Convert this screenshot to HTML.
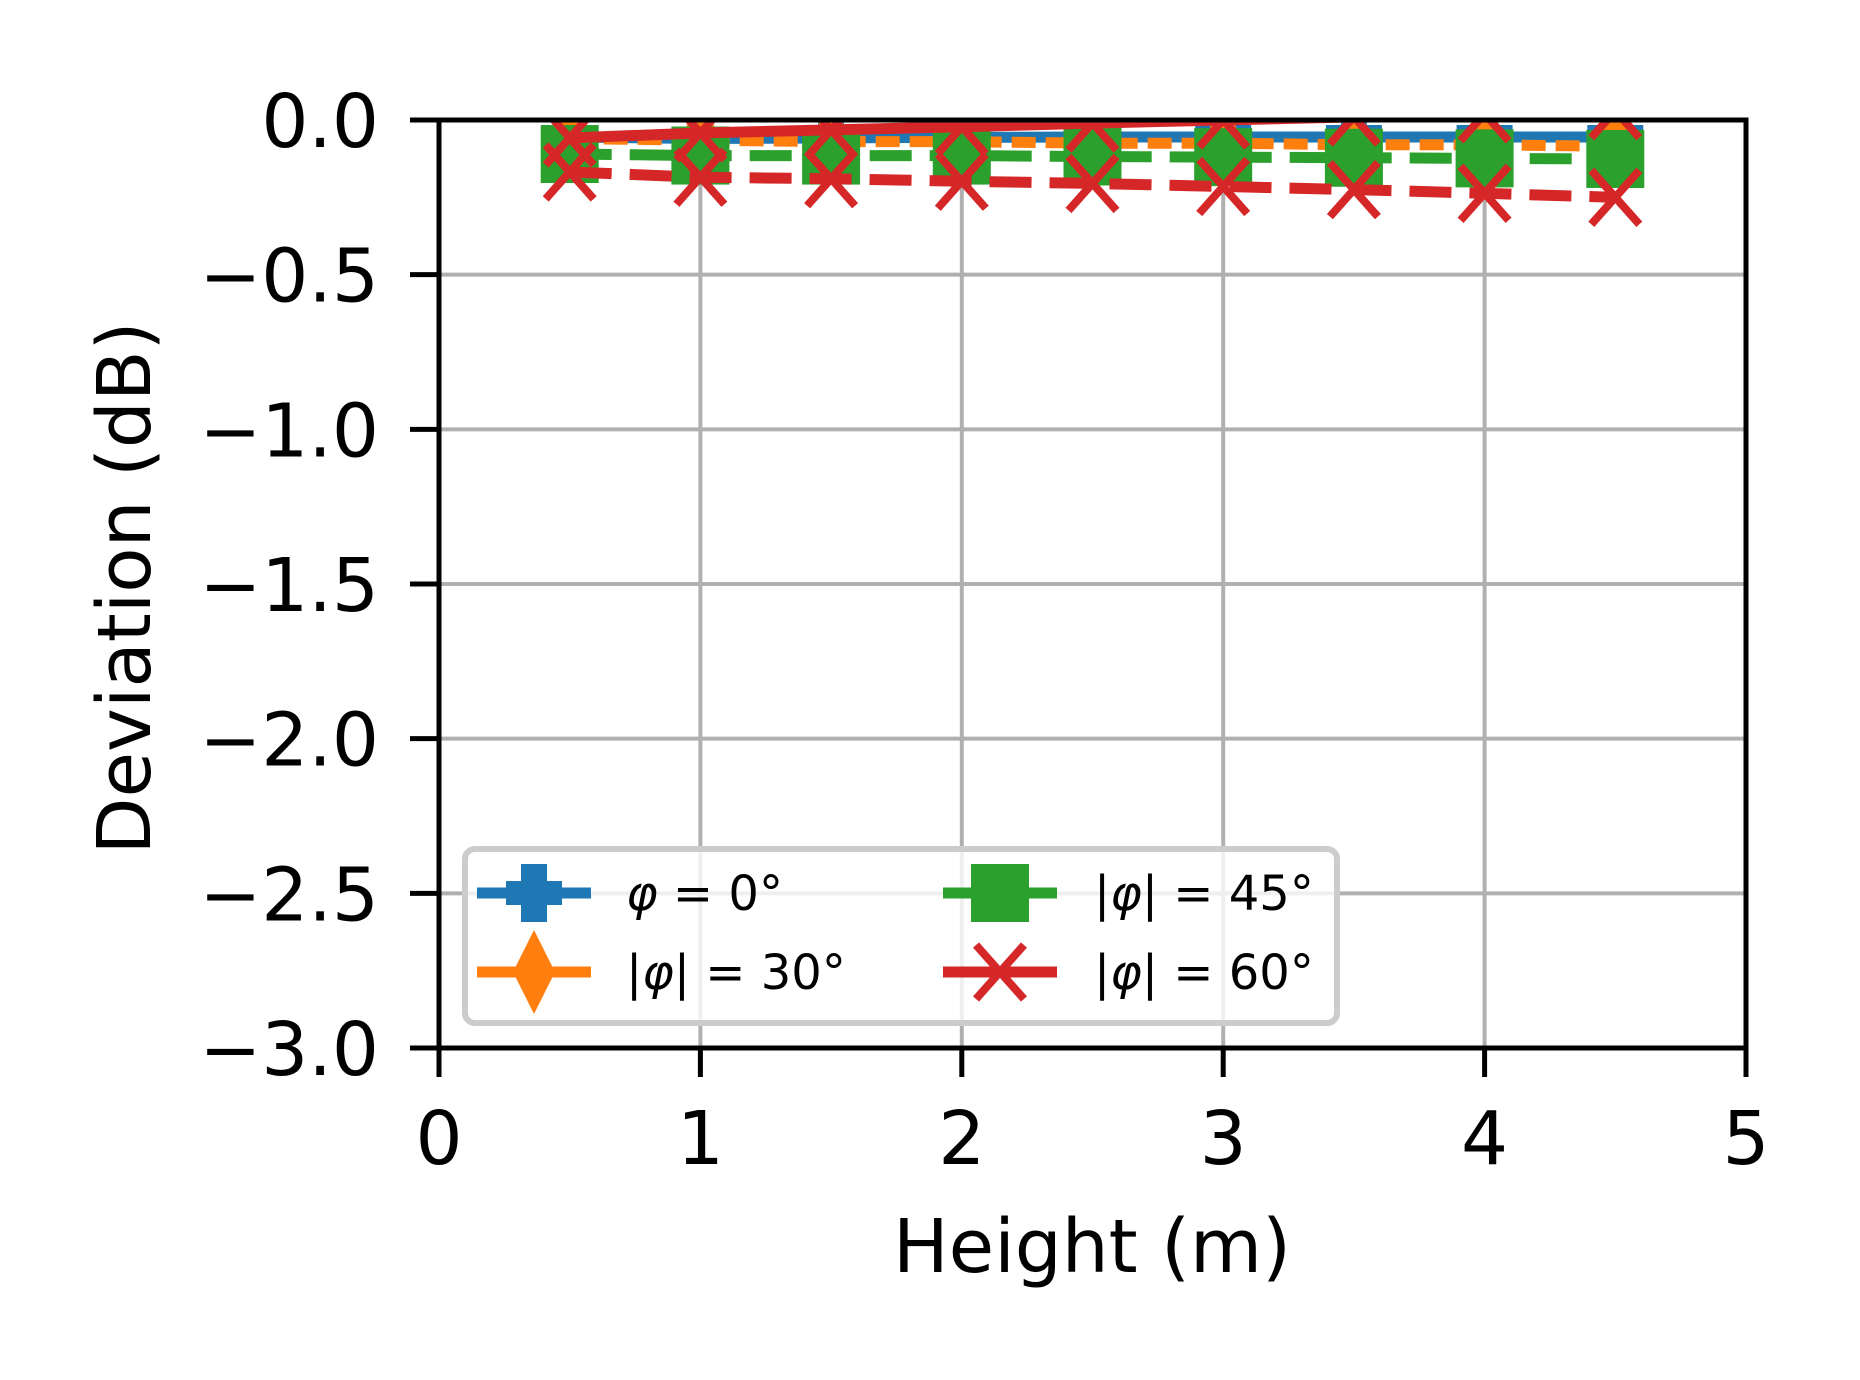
<!DOCTYPE html>
<html><head><meta charset="utf-8"><style>
html,body{margin:0;padding:0;background:#fff;}
svg{display:block;font-family:"DejaVu Sans","Liberation Sans",sans-serif;}
</style></head><body>
<svg id="chart" width="1860" height="1380" viewBox="0 0 1860 1380" xmlns="http://www.w3.org/2000/svg">
<defs><clipPath id="clip"><rect x="439" y="120" width="1307" height="928"/></clipPath></defs>
<rect width="1860" height="1380" fill="#fff"/>
<g id="grid"></g>
<g id="series" clip-path="url(#clip)"></g>
<g id="axes"></g>
<text x="125" y="588" font-size="74" text-anchor="middle" transform="rotate(-90 125 588)" dominant-baseline="central">Deviation (dB)</text>
<text x="1092" y="1272" font-size="74" text-anchor="middle">Height (m)</text>
<g id="legend"></g>
</svg>
<script>
const heights = [0.5, 1.0, 1.5, 2.0, 2.5, 3.0, 3.5, 4.0, 4.5];
const dev0 = [-0.055, -0.06, -0.058, -0.056, -0.055, -0.055, -0.055, -0.055, -0.055];
const dev30 = [-0.06, -0.065, -0.07, -0.07, -0.075, -0.075, -0.08, -0.08, -0.085];
const dev45 = [-0.11, -0.115, -0.115, -0.115, -0.118, -0.12, -0.122, -0.124, -0.126];
const dev60pos = [-0.058, -0.042, -0.032, -0.022, -0.01, 0.0, 0.01, 0.02, 0.03];
const dev60neg = [-0.168, -0.185, -0.19, -0.198, -0.205, -0.215, -0.225, -0.237, -0.25];
const xTicks = [0, 1, 2, 3, 4, 5];
const yTicks = [0, -0.5, -1.0, -1.5, -2.0, -2.5, -3.0];
const yTickLabels = ["0.0", "\u22120.5", "\u22121.0", "\u22121.5", "\u22122.0", "\u22122.5", "\u22123.0"];

const L = 439, R = 1746, T = 120, B = 1048;
const xs = v => L + (v - 0) / 5 * (R - L);
const ys = v => T + (0 - v) / 3 * (B - T);
const NS = "http://www.w3.org/2000/svg";
function mk(tag, attrs, parent) {
  const e = document.createElementNS(NS, tag);
  for (const k in attrs) e.setAttribute(k, attrs[k]);
  parent.appendChild(e);
  return e;
}
const grid = document.getElementById('grid');
const axes = document.getElementById('axes');
xTicks.forEach(t => {
  const g = mk('line', {x1: xs(t), x2: xs(t), y1: T, y2: B, stroke: '#b0b0b0', 'stroke-width': 4}, grid);
  
  
  const tk = mk('line', {x1: xs(t), x2: xs(t), y1: B, y2: B + 29, stroke: '#000', 'stroke-width': 5}, axes);
  
  
  const tx = mk('text', {x: xs(t), y: 1164, 'font-size': 74, 'text-anchor': 'middle'}, axes);
  tx.textContent = String(t);
  
  
});
yTicks.forEach((t, i) => {
  const g = mk('line', {x1: L, x2: R, y1: ys(t), y2: ys(t), stroke: '#b0b0b0', 'stroke-width': 4}, grid);
  
  
  const tk = mk('line', {x1: L - 29, x2: L, y1: ys(t), y2: ys(t), stroke: '#000', 'stroke-width': 5}, axes);
  
  
  const tx = mk('text', {x: 379, y: ys(t) + 27, 'font-size': 74, 'text-anchor': 'end'}, axes);
  tx.textContent = yTickLabels[i];
  
  
});
const frame = mk('rect', {x: L, y: T, width: R - L, height: B - T, fill: 'none', stroke: '#000', 'stroke-width': 5}, axes);



function marker(type, cx, cy, color, parent) {
  let e;
  if (type === 'plus') {
    e = mk('path', {d: `M${cx-28},${cy-12}h15v-17h26v17h15v24h-15v17h-26v-17h-15z`, fill: color}, parent);
  } else if (type === 'diamond') {
    e = mk('path', {d: `M${cx},${cy-42}L${cx+21},${cy}L${cx},${cy+42}L${cx-21},${cy}z`, fill: color}, parent);
  } else if (type === 'square') {
    e = mk('rect', {x: cx - 29, y: cy - 29, width: 58, height: 58, fill: color}, parent);
  } else {
    e = mk('path', {d: `M${cx-24},${cy-27}L${cx+24},${cy+27}M${cx+24},${cy-27}L${cx-24},${cy+27}`, stroke: color, 'stroke-width': 8, fill: 'none'}, parent);
  }
  return e;
}
const seriesG = document.getElementById('series');
const seriesDefs = [
  {vals: dev0, color: '#1f77b4', dash: '', m: 'plus', name: 'series-phi-0'},
  {vals: dev30, color: '#ff7f0e', dash: '24 10', m: 'diamond', name: 'series-phi-30'},
  {vals: dev45, color: '#2ca02c', dash: '42 18', m: 'square', name: 'series-phi-45'},
  {vals: dev60neg, color: '#d62728', dash: '42 18', m: 'x', name: 'series-phi-60-negative'},
  {vals: dev60pos, color: '#d62728', dash: '', m: 'x', name: 'series-phi-60'}
];
seriesDefs.forEach(s => {
  const g = mk('g', {}, seriesG);
  
  
  const pts = heights.map((h, i) => xs(h) + ',' + ys(s.vals[i])).join(' ');
  const pl = mk('polyline', {points: pts, fill: 'none', stroke: s.color, 'stroke-width': 11, 'stroke-dasharray': s.dash}, g);
  
  
  heights.forEach((h, i) => {
    const m = marker(s.m, xs(h), ys(s.vals[i]), s.color, g);
    
    
  });
});

const legend = document.getElementById('legend');
const box = mk('rect', {x: 465, y: 849, width: 872, height: 174, rx: 10, fill: 'rgba(255,255,255,0.8)', stroke: '#cccccc', 'stroke-width': 6}, legend);


const legendItems = [
  {cx: 534, cy: 893, tx: 626, color: '#1f77b4', m: 'plus', pre: '', post: ' = 0\u00b0', name: 'legend-entry-phi-0'},
  {cx: 534, cy: 972, tx: 626, color: '#ff7f0e', m: 'diamond', pre: '|', post: '| = 30\u00b0', name: 'legend-entry-phi-30'},
  {cx: 1000, cy: 893, tx: 1094, color: '#2ca02c', m: 'square', pre: '|', post: '| = 45\u00b0', name: 'legend-entry-phi-45'},
  {cx: 1000, cy: 972, tx: 1094, color: '#d62728', m: 'x', pre: '|', post: '| = 60\u00b0', name: 'legend-entry-phi-60'}
];
legendItems.forEach(it => {
  const g = mk('g', {}, legend);
  
  
  mk('line', {x1: it.cx - 57, x2: it.cx + 57, y1: it.cy, y2: it.cy, stroke: it.color, 'stroke-width': 11}, g);
  marker(it.m, it.cx, it.cy, it.color, g);
  const t = mk('text', {x: it.tx, y: it.cy + 17, 'font-size': 48}, g);
  
  
  if (it.pre) { const a = mk('tspan', {}, t); a.textContent = it.pre; }
  const phi = mk('tspan', {'font-style': 'italic'}, t);
  phi.textContent = '\u03c6';
  const b = mk('tspan', {}, t);
  b.textContent = it.post;
});
</script>
</body></html>
